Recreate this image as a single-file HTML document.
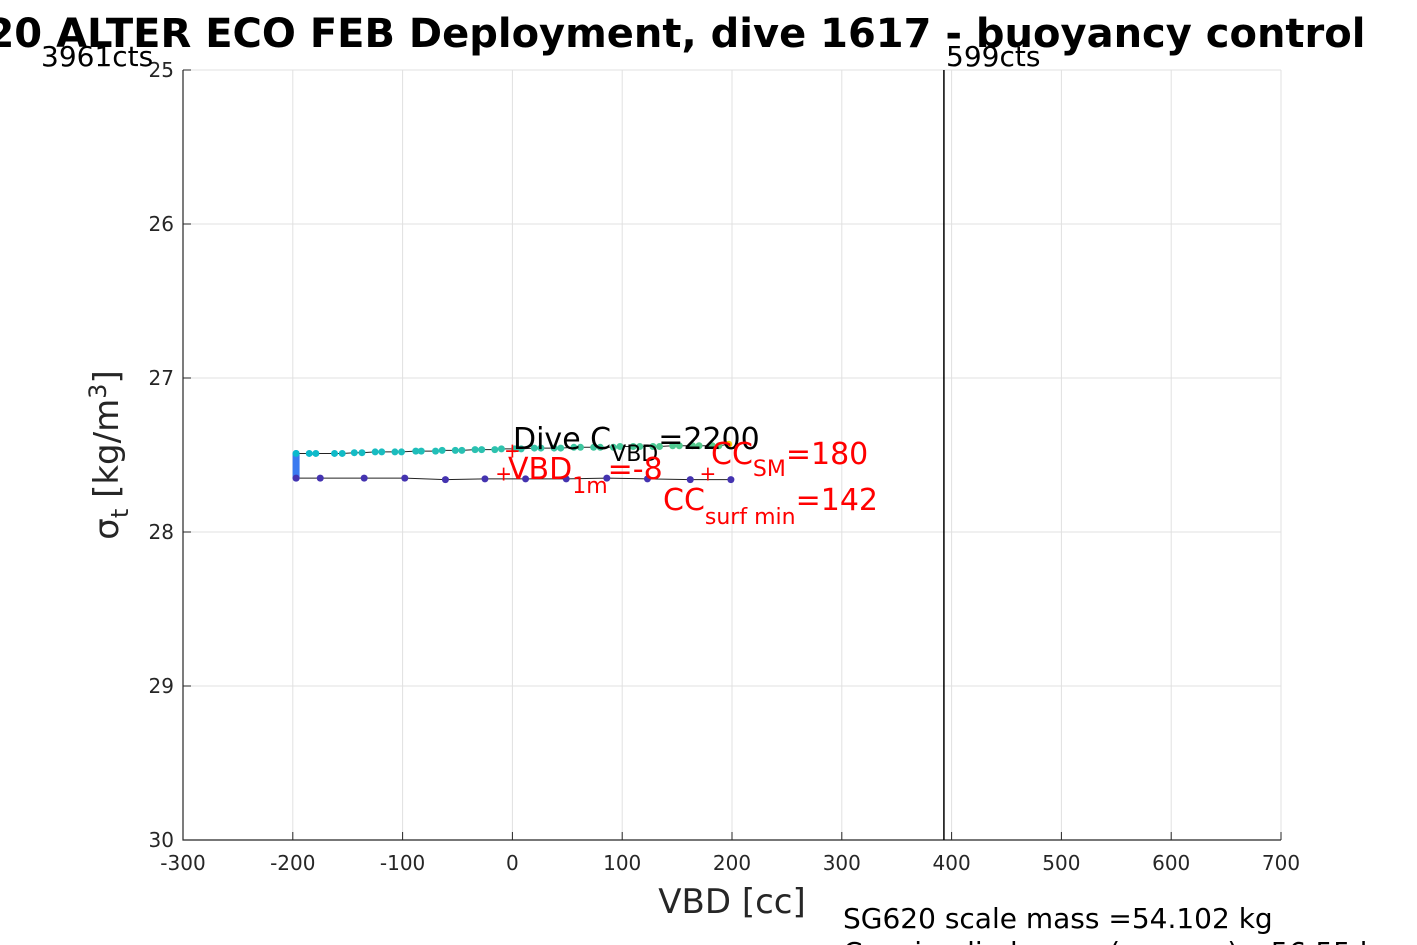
<!DOCTYPE html>
<html><head><meta charset="utf-8"><style>
body{margin:0;background:#fff;overflow:hidden}
svg{display:block;font-family:"DejaVu Sans","Liberation Sans",sans-serif}
</style></head><body>
<svg id="c" width="1417" height="945" viewBox="0 0 1417 945">
<g id="grid"></g>
<g id="axes"></g>
<g id="marks"></g>
<text x="-103" y="47" font-size="40" font-weight="bold">SG620 ALTER ECO FEB Deployment, dive 1617 - buoyancy control</text>
<text x="41" y="66" font-size="28">3961cts</text>
<text x="946" y="66" font-size="28">599cts</text>
<text x="732" y="913" font-size="34" fill="#262626" text-anchor="middle">VBD [cc]</text>
<text transform="translate(118,455) rotate(-90)" font-size="34" fill="#262626" text-anchor="middle">σ<tspan font-size="24" dy="10">t</tspan><tspan dy="-10"> [kg/m</tspan><tspan font-size="24" dy="-12">3</tspan><tspan dy="12">]</tspan></text>
<text x="513" y="449" font-size="30">Dive C<tspan font-size="22" dy="12">VBD</tspan><tspan dy="-12">=2200</tspan></text>
<text x="508" y="479" font-size="30" fill="red">VBD<tspan font-size="22" dy="14">1m</tspan><tspan dy="-14">=-8</tspan></text>
<text x="711" y="464" font-size="30" fill="red">CC<tspan font-size="22" dy="12">SM</tspan><tspan dy="-12">=180</tspan></text>
<text x="663" y="510" font-size="30" fill="red">CC<tspan font-size="22" dy="14">surf min</tspan><tspan dy="-14">=142</tspan></text>
<text x="843" y="928" font-size="28">SG620 scale mass =54.102 kg</text>
<text x="843" y="962" font-size="28">C<tspan font-size="20" dy="8">VBD</tspan><tspan dy="-8"> implied mass (sensors) =56.55 kg</tspan></text>
</svg>
<script>
const xTicks=[-300,-200,-100,0,100,200,300,400,500,600,700];
const yTicks=[25,26,27,28,29,30];
const upVbd=[-197,-185,-179,-162,-155,-144,-137,-125,-119,-107,-101,-88,-83,-70,-64,-52,-46,-34,-28,-16,-10,2,8,20,26,38,44,56,62,74,80,92,98,110,116,128,134,146,152,164,170,182,188,197];
const upSig=[27.49,27.49,27.49,27.49,27.49,27.485,27.485,27.48,27.48,27.48,27.48,27.475,27.475,27.475,27.47,27.47,27.47,27.465,27.465,27.465,27.46,27.46,27.46,27.455,27.455,27.455,27.455,27.45,27.45,27.45,27.45,27.45,27.445,27.445,27.445,27.445,27.445,27.44,27.44,27.44,27.44,27.44,27.44,27.43];
const loVbd=[-197,-175,-135,-98,-61,-25,12,49,86,123,162,199];
const loSig=[27.65,27.65,27.65,27.65,27.66,27.655,27.655,27.655,27.65,27.655,27.66,27.66];
const verticalVbd=[-197,-197];
const verticalSig=[27.49,27.65];
const redPlusVbd=[0,-8,178];
const redPlusSig=[27.47,27.62,27.62];
const refLineVbd=393;
const NS="http://www.w3.org/2000/svg";
const X0=183,X1=1281,Y0=70,Y1=840;
const sx=v=>X0+(v+300)/1000*(X1-X0);
const sy=s=>Y0+(s-25)/5*(Y1-Y0);
function mk(t,a,p){const e=document.createElementNS(NS,t);for(const k in a)e.setAttribute(k,a[k]);p.appendChild(e);return e;}
const grid=document.getElementById('grid'),axes=document.getElementById('axes'),marks=document.getElementById('marks');
xTicks.forEach(v=>{
 const l=mk('line',{x1:sx(v),x2:sx(v),y1:Y0,y2:Y1,stroke:'#e0e0e0'},grid);
 
 
 const t=mk('text',{x:sx(v),y:Y1+30,'font-size':20,'text-anchor':'middle',fill:'#262626'},axes);t.textContent=v;
 
 
 mk('line',{x1:sx(v),x2:sx(v),y1:Y1,y2:Y1-8,stroke:'#262626'},axes);
});
yTicks.forEach(v=>{
 const l=mk('line',{x1:X0,x2:X1,y1:sy(v),y2:sy(v),stroke:'#e0e0e0'},grid);
 
 
 const t=mk('text',{x:X0-9,y:sy(v)+7,'font-size':20,'text-anchor':'end',fill:'#262626'},axes);t.textContent=v;
 
 
 mk('line',{x1:X0,x2:X0+8,y1:sy(v),y2:sy(v),stroke:'#262626'},axes);
});
const ax=mk('path',{d:`M${X0},${Y0}V${Y1}H${X1}`,fill:'none',stroke:'#262626','stroke-width':1.2},axes);


const rl=mk('line',{x1:sx(refLineVbd),x2:sx(refLineVbd),y1:Y0,y2:Y1,stroke:'#000','stroke-width':1.5},marks);


const ul=mk('polyline',{points:upVbd.map((v,i)=>sx(v)+','+sy(upSig[i])).join(' '),fill:'none',stroke:'#222','stroke-width':1},marks);


const ll=mk('polyline',{points:loVbd.map((v,i)=>sx(v)+','+sy(loSig[i])).join(' '),fill:'none',stroke:'#222','stroke-width':1},marks);


const vl=mk('line',{x1:sx(verticalVbd[0]),x2:sx(verticalVbd[1]),y1:sy(verticalSig[0]),y2:sy(verticalSig[1]),stroke:'#3a7af0','stroke-width':7,'stroke-linecap':'round'},marks);


upVbd.forEach((v,i)=>{
 const f=i/(upVbd.length-1);
 const col=`rgb(${Math.round(10+80*f)},${Math.round(185+20*f)},${Math.round(205-70*f)})`;
 const c=mk('circle',{cx:sx(v),cy:sy(upSig[i]),r:3.5,fill:i==upVbd.length-1?'#f5d000':col},marks);
 
 
});
loVbd.forEach((v,i)=>{
 const c=mk('circle',{cx:sx(v),cy:sy(loSig[i]),r:3.5,fill:'#4433b0'},marks);
 
 
});
redPlusVbd.forEach((v,i)=>{
 const t=mk('text',{x:sx(v),y:sy(redPlusSig[i])+7,'font-size':20,fill:'red','text-anchor':'middle'},marks);t.textContent='+';
 
 
});
</script>
</body></html>
